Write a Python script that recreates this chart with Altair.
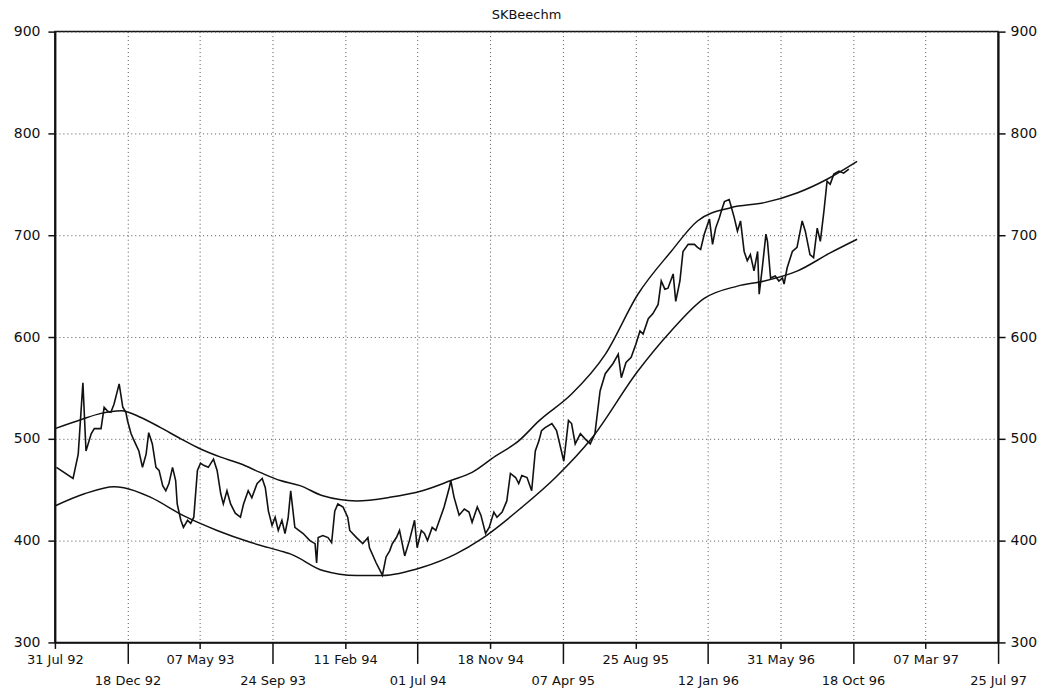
import altair as alt
import pandas as pd

TITLE = "SKBeechm"
START = "1992-07-31"
TICK_DATES = ["1992-07-31", "1992-12-18", "1993-05-07", "1993-09-24", "1994-02-11",
              "1994-07-01", "1994-11-18", "1995-04-07", "1995-08-25", "1996-01-12",
              "1996-05-31", "1996-10-18", "1997-03-07", "1997-07-25"]
Y_TICKS = [300, 400, 500, 600, 700, 800, 900]

# price: days after 31 Jul 92, and value
PRICE_DAY = [3, 35, 45, 54, 60, 70, 76, 89, 95, 102, 108, 114, 124, 131, 137, 140, 147, 153,
             162, 169, 176, 181, 188, 195, 201, 208, 214, 220, 227, 233, 236, 243, 248, 256,
             262, 268, 275, 281, 287, 296, 306, 313, 320, 325, 332, 339, 348, 358, 364, 373,
             380, 390, 400, 406, 412, 419, 425, 431, 438, 444, 450, 455, 463, 479, 492, 502,
             505, 508, 517, 527, 534, 540, 546, 556, 565, 569, 582, 594, 604, 607, 620, 630,
             632, 639, 646, 651, 659, 665, 675, 684, 694, 699, 707, 713, 719, 728, 735, 742,
             751, 761, 764, 770, 780, 790, 799, 805, 815, 822, 831, 838, 847, 853, 863, 872,
             879, 889, 895, 901, 911, 920, 927, 934, 939, 946, 959, 968, 982, 991, 997, 1004,
             1014, 1023, 1033, 1042, 1052, 1062, 1077, 1087, 1093, 1102, 1112, 1121, 1129,
             1135, 1145, 1154, 1164, 1170, 1177, 1183, 1193, 1198, 1206, 1212, 1222, 1234,
             1240, 1246, 1253, 1263, 1269, 1275, 1282, 1288, 1292, 1301, 1304, 1311, 1317,
             1323, 1330, 1336, 1342, 1349, 1356, 1359, 1365, 1372, 1375, 1381, 1390, 1397,
             1404, 1407, 1413, 1423, 1432, 1442, 1448, 1457, 1464, 1471, 1477, 1484, 1490,
             1496, 1503, 1513, 1522, 1532]
PRICE_VAL = [472, 461, 485, 555, 488, 505, 510, 510, 531, 527, 526, 534, 554, 531, 526, 518, 505, 498,
             488, 472, 485, 506, 495, 472, 469, 454, 449, 456, 472, 459, 436, 420, 413, 420,
             417, 423, 469, 476, 474, 472, 480, 469, 446, 436, 449, 436, 427, 423, 436, 449,
             442, 456, 461, 452, 429, 415, 423, 410, 420, 407, 422, 449, 413, 407, 400, 397,
             378, 403, 405, 403, 398, 429, 436, 433, 423, 410, 403, 397, 403, 393, 378, 368,
             366, 384, 390, 397, 403, 410, 385, 400, 420, 393, 410, 407, 400, 413, 410, 420,
             433, 452, 459, 443, 425, 431, 428, 418, 433, 425, 407, 413, 428, 423, 428, 439,
             466, 462, 456, 464, 462, 449, 488, 498, 508, 511, 515, 508, 478, 518, 515, 495,
             505, 500, 495, 505, 547, 564, 574, 583, 560, 575, 580, 593, 606,
             603, 618, 623, 632, 655, 647, 648, 662, 635, 655, 684, 691, 691,
             688, 686, 701, 716, 691, 707, 717, 727, 733, 735, 730, 717, 704,
             714, 684, 675, 681, 665, 684, 642, 668, 701, 694, 658, 660, 655,
             658, 652, 668, 684, 688, 714, 704, 681, 678, 707, 694, 724, 753,
             750, 760, 763, 761, 765]

UPPER_DAY = [0, 51, 89, 128, 166, 204, 243, 281, 320, 358, 396, 435, 473, 517, 582, 646, 709,
             764, 805, 850, 895, 934, 997, 1062, 1125, 1189, 1240, 1304, 1369, 1432, 1490, 1548]
UPPER_VAL = [510, 519, 525, 527.6, 521, 511, 500, 490, 482, 475.5, 467, 459, 454, 444, 439,
             442.5, 449, 459, 467, 483, 498, 517.6, 544, 583, 642, 684, 714, 727, 732, 741.5,
             755, 772.5]

LOWER_DAY = [0, 57, 114, 133, 185, 248, 313, 377, 441, 454, 517, 582, 632, 709, 774, 824, 901,
             966, 1035, 1125, 1189, 1253, 1317, 1369, 1432, 1496, 1548]
LOWER_VAL = [434, 446, 453, 452, 442.5, 424.5, 410, 398.4, 389, 387, 370.6, 365.7, 365.7,
             373.8, 387, 402, 432.7, 462, 500, 566.7, 606, 638, 650, 655, 664.7, 682.6, 696]


def to_dates(days):
    idx = pd.Timestamp(START) + pd.to_timedelta(days, unit="D")
    return idx.strftime("%Y-%m-%d").tolist()


def dt(s):
    t = pd.Timestamp(s)
    return alt.DateTime(year=t.year, month=t.month, date=t.day, utc=True)


price_df = pd.DataFrame({"date": to_dates(PRICE_DAY), "value": PRICE_VAL})
upper_df = pd.DataFrame({"date": to_dates(UPPER_DAY), "value": UPPER_VAL})
lower_df = pd.DataFrame({"date": to_dates(LOWER_DAY), "value": LOWER_VAL})

T0 = pd.Timestamp(START, tz="UTC").value // 10**6
STEP = 140 * 86400000
LOWER_ROW = f"round((datum.value - {T0}) / {STEP}) % 2 == 1"

FONT = "DejaVu Sans"
INK = "#111111"
GRID = "#555555"

x_scale = alt.Scale(type="utc", domain=[dt(TICK_DATES[0]), dt(TICK_DATES[-1])])
y_scale = alt.Scale(domain=[300, 900], zero=False, nice=False)

x_axis = alt.Axis(
    values=[dt(s) for s in TICK_DATES], format="%d %b %y", title=None,
    labelFont=FONT, labelFontSize=13, labelColor=INK, labelOverlap=False, labelFlush=False,
    tickColor=INK, tickWidth=1.5,
    tickSize={"condition": {"test": LOWER_ROW, "value": 21}, "value": 6},
    labelPadding={"condition": {"test": LOWER_ROW, "value": 11}, "value": 5},
    grid=True, gridDash=[1, 3], gridColor=GRID, gridWidth=1,
    domainColor=INK, domainWidth=1.5,
)

left_axis = alt.Axis(
    values=Y_TICKS, orient="left", title=None, labelFont=FONT, labelFontSize=14,
    labelColor=INK, tickColor=INK, tickSize=7, tickWidth=1.5, labelPadding=8,
    domainColor=INK, domainWidth=2, grid=True, gridDash=[1, 3], gridColor=GRID,
    gridWidth=1,
)
right_axis = alt.Axis(
    values=Y_TICKS, orient="right", title=None, labelFont=FONT, labelFontSize=14,
    labelColor=INK, tickColor=INK, tickSize=7, tickWidth=1.5, labelPadding=5,
    domainColor=INK, domainWidth=2, grid=False,
)

price = alt.Chart(price_df).mark_line(color=INK, strokeWidth=1.6).encode(
    x=alt.X("date:T", scale=x_scale, axis=x_axis),
    y=alt.Y("value:Q", scale=y_scale, axis=left_axis),
)
upper = alt.Chart(upper_df).mark_line(color=INK, strokeWidth=1.5, interpolate="monotone").encode(
    x=alt.X("date:T", scale=x_scale, axis=x_axis),
    y=alt.Y("value:Q", scale=y_scale, axis=right_axis),
)
lower = alt.Chart(lower_df).mark_line(color=INK, strokeWidth=1.5, interpolate="monotone").encode(
    x=alt.X("date:T", scale=x_scale, axis=x_axis),
    y=alt.Y("value:Q", scale=y_scale, axis=None),
)

chart = alt.layer(price, upper, lower).resolve_axis(y="independent").properties(
    width=945, height=612,
    title=alt.Title(TITLE, font=FONT, fontSize=13, fontWeight="normal", color=INK, offset=3),
    background="white",
    padding={"top": 0, "left": 5, "right": 5, "bottom": 0},
).configure_view(stroke=INK, strokeWidth=1.5)

chart.save("out.html", embed_options={"renderer": "svg", "actions": False})
